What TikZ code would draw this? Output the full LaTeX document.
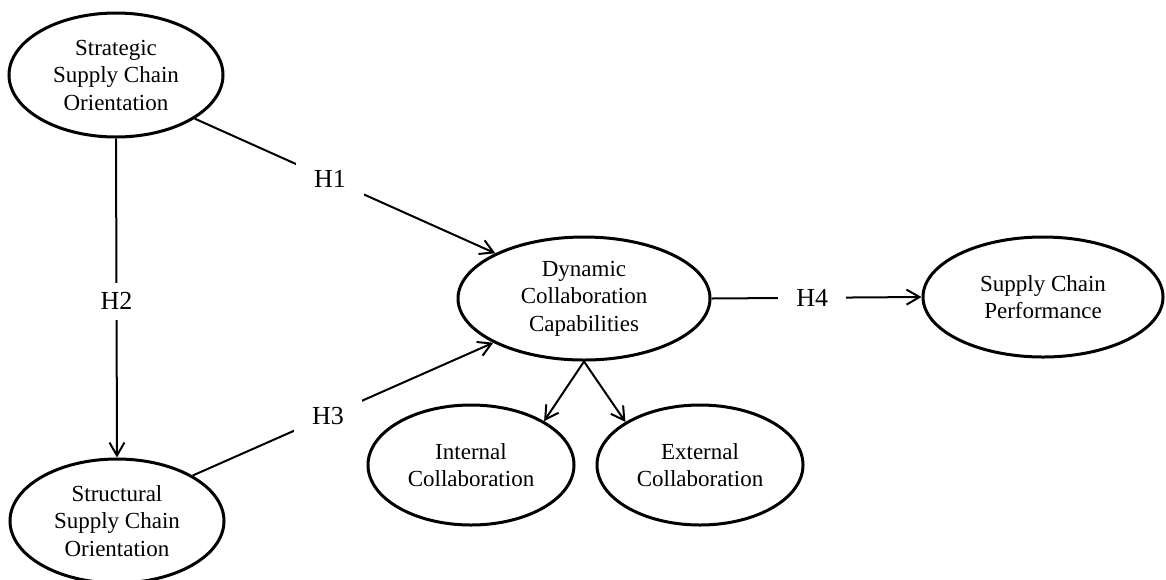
\documentclass[tikz,border=0pt]{standalone}
\usepackage{fontspec}
\setmainfont{Liberation Serif}
\usetikzlibrary{shapes.geometric,arrows.meta}
\begin{document}
\begin{tikzpicture}[x=0.5pt,y=-0.5pt,
  lat/.style={ellipse,draw,line width=1.5pt,inner sep=0pt,align=center,font=\fontsize{11.5}{13.75}\selectfont},
  hyp/.style={fill=white,inner xsep=9pt,inner ysep=5pt,font=\fontsize{13}{15}\selectfont},
  conn/.style={line width=1pt},
  arr/.style={conn,-{Straight Barb[length=6.5pt,width=7.5pt]}}]
\useasboundingbox (0,0) rectangle (1166,579);
\node[lat,minimum width=107pt,minimum height=62pt] (st) at (116,75) {Strategic\\Supply Chain\\Orientation};
\node[lat,minimum width=107pt,minimum height=62pt] (sc) at (117,521) {Structural\\Supply Chain\\Orientation};
\node[lat,minimum width=126pt,minimum height=61.5pt] (dc) at (584,298.5) {Dynamic\\Collaboration\\Capabilities};
\node[lat,minimum width=120pt,minimum height=60pt] (scp) at (1043,297) {Supply Chain\\Performance};
\node[lat,minimum width=103pt,minimum height=60pt] (ic) at (471,465) {Internal\\Collaboration};
\node[lat,minimum width=103pt,minimum height=60pt] (ec) at (700,465) {External\\Collaboration};
\draw[arr] (st.331) -- node[hyp,pos=0.45] {H1} (dc.153);
\draw[arr] (st.south) -- node[hyp,pos=0.51] {H2} (sc.north);
\draw[arr] (sc.31) -- node[hyp,pos=0.45] {H3} (dc.206);
\draw[arr] (dc.east) -- node[hyp,pos=0.48] {H4} (scp.west);
\draw[arr] (dc.south) -- (ic.31);
\draw[arr] (dc.south) -- (ec.150);
\end{tikzpicture}
\end{document}
